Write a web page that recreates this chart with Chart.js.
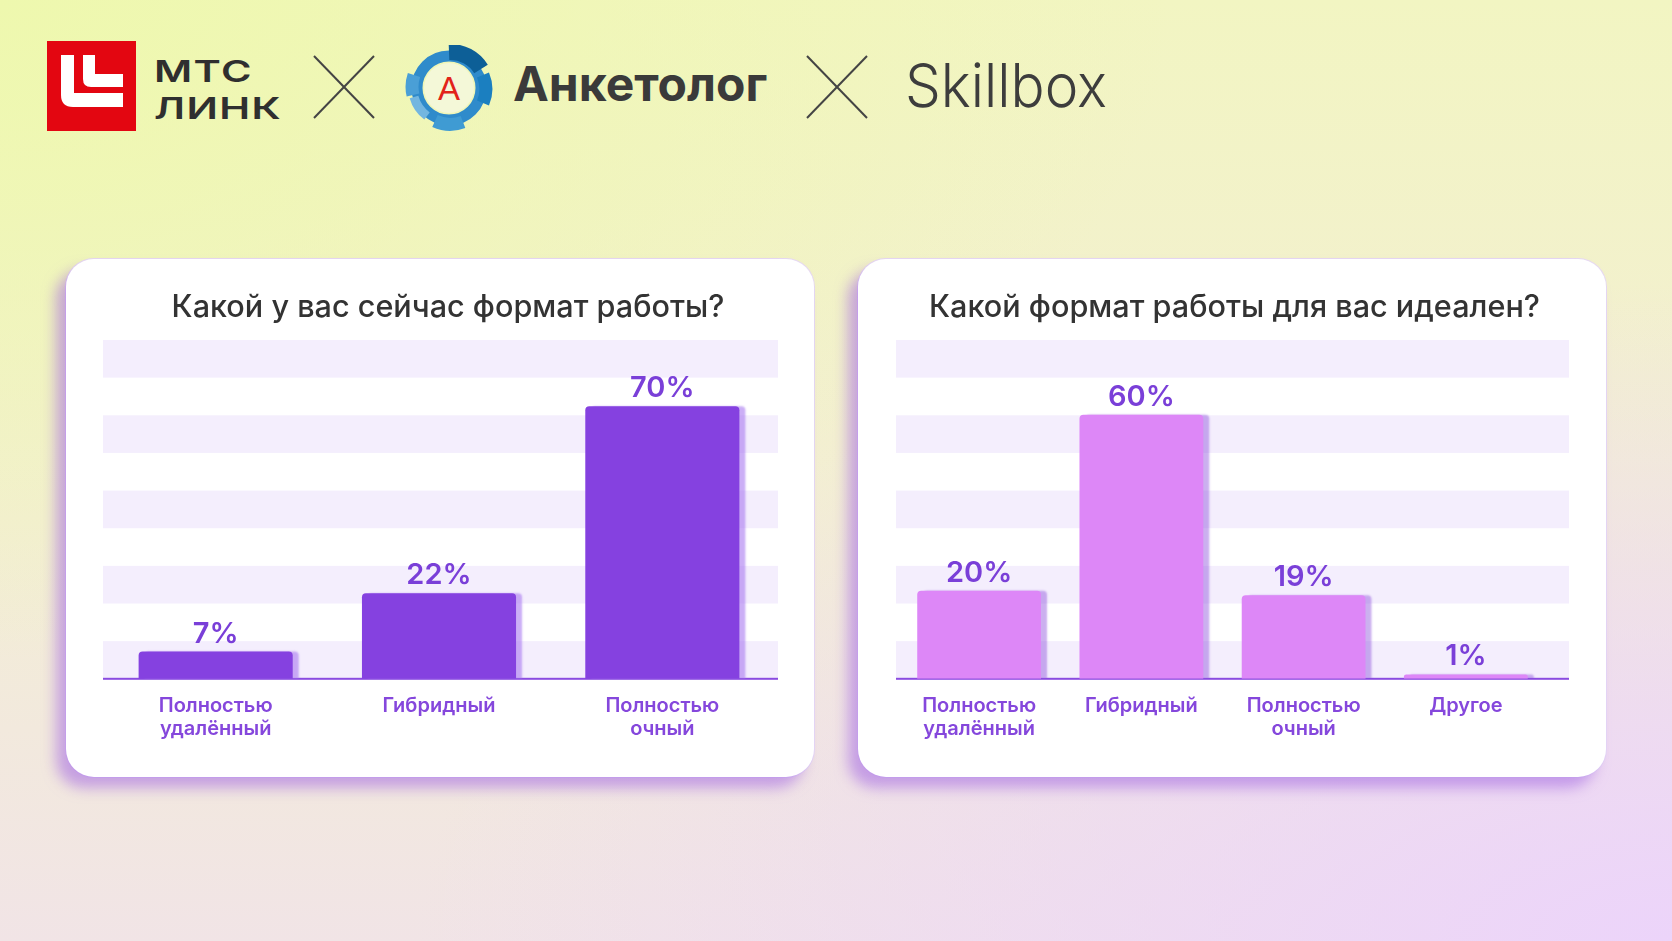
<!DOCTYPE html>
<html lang="ru">
<head>
<meta charset="utf-8">
<title>Формат работы</title>
<script src="https://cdn.jsdelivr.net/npm/chart.js@4.4.1/dist/chart.umd.min.js"></script>
<style>
html, body { margin: 0; padding: 0; }
body {
  width: 1672px; height: 941px; overflow: hidden; position: relative;
  font-family: Inter, "Noto Sans", sans-serif;
  background:
    radial-gradient(ellipse 75% 70% at 100% 100%, rgba(236,212,250,1) 0%, rgba(236,212,250,0) 100%),
    radial-gradient(ellipse 70% 70% at 0% 0%, #eef8ae 0%, rgba(238,248,174,0) 100%),
    linear-gradient(180deg, #f2f5c2 0%, #f3eed4 55%, #f1e4e6 100%);
}
.logo-red { position: absolute; left: 47px; top: 41px; width: 89px; height: 90px; background: #e30611; }
.mts { position: absolute; left: 154px; font-weight: 600; font-size: 30px; color: #2f2f2f; line-height: 1;
  transform-origin: left top; transform: scaleX(1.38); letter-spacing: 1px; }
.cross { position: absolute; top: 55px; width: 64px; height: 64px; }
.gear { position: absolute; left: 405px; top: 45px; width: 88px; height: 86px; }
.anketolog { position: absolute; left: 513px; top: 60px; font-size: 48px; font-weight: 700; color: #3a3a3a; line-height: 1; }
.skillbox { position: absolute; left: 905px; top: 55px; font-size: 61px; font-weight: 300; color: #3d3d3d; line-height: 1;
  transform-origin: left top; transform: scaleX(0.93); }
.card {
  position: absolute; top: 259px; width: 748px; height: 518px; background: #fff; border-radius: 28px;
  box-shadow: -10px 11px 14px rgba(168,112,226,0.6), 0 0 0 1px rgba(228,214,246,0.9);
  overflow: hidden;
}
.card canvas { display: block; }
</style>
</head>
<body>

<div class="logo-red">
  <svg width="89" height="90" viewBox="0 0 89 90">
    <path d="M14 14 H27 V52 H76 V66 H26 Q14 66 14 54 Z" fill="#fff"/>
    <path d="M36 14 H48 V33 H76 V46 H44 Q36 46 36 38 Z" fill="#fff"/>
  </svg>
</div>
<div class="mts" style="top:56px">МТС</div>
<div class="mts" style="top:93px">ЛИНК</div>

<svg class="cross" style="left:312px" viewBox="0 0 64 64">
  <line x1="2" y1="1" x2="62" y2="63" stroke="#444" stroke-width="2"/>
  <line x1="62" y1="1" x2="2" y2="63" stroke="#444" stroke-width="2"/>
</svg>

<svg class="gear" viewBox="0 0 88 86">
  <circle cx="44" cy="43" r="32" fill="none" stroke="#2f8bcb" stroke-width="11"/>
  <path d="M44 7 A36 36 0 0 1 76 24" fill="none" stroke="#0d5f97" stroke-width="16"/>
  <path d="M78 30 A36 36 0 0 1 78 58" fill="none" stroke="#1b7fc0" stroke-width="13"/>
  <path d="M30 76 A36 36 0 0 0 58 77" fill="none" stroke="#3f9bd3" stroke-width="13"/>
  <path d="M9 52 A36 36 0 0 0 22 71" fill="none" stroke="#73b6e0" stroke-width="9"/>
  <path d="M9 30 A36 36 0 0 0 8 50" fill="none" stroke="#4a9fd6" stroke-width="13"/>
  <circle cx="44" cy="43" r="25" fill="#f4f8d8"/>
  <text x="44" y="55" text-anchor="middle" font-family="Liberation Sans, sans-serif" font-size="33" fill="#e2231a">A</text>
</svg>
<div class="anketolog">Анкетолог</div>

<svg class="cross" style="left:805px" viewBox="0 0 64 64">
  <line x1="2" y1="1" x2="62" y2="63" stroke="#444" stroke-width="2"/>
  <line x1="62" y1="1" x2="2" y2="63" stroke="#444" stroke-width="2"/>
</svg>
<div class="skillbox">Skillbox</div>

<div class="card" style="left:66px"><canvas id="chartNow" width="748" height="518"></canvas></div>
<div class="card" style="left:858px"><canvas id="chartIdeal" width="747" height="518"></canvas></div>

<script>
// ---- data ----
const titleNow = "Какой у вас сейчас формат работы?";
const labelsNow = [["Полностью", "удалённый"], "Гибридный", ["Полностью", "очный"]];
const valuesNow = [7, 22, 70];

const titleIdeal = "Какой формат работы для вас идеален?";
const labelsIdeal = [["Полностью", "удалённый"], "Гибридный", ["Полностью", "очный"], "Другое"];
const valuesIdeal = [20, 60, 19, 1];

const $ = (sel, root=document) => root.querySelector(sel);

/* ---------- plugins ---------- */
// светлые горизонтальные полосы и базовая линия
const bandsPlugin = {
  id: "bands",
  beforeDraw(chart, args, opts) {
    const { ctx, chartArea: a } = chart;
    const x0 = a.left - opts.extLeft, x1 = a.right + opts.extRight;
    const n = 9, h = (a.bottom - a.top) / n;
    ctx.save();
    ctx.fillStyle = "#f4eefd";
    for (let i = 0; i < n; i += 2) ctx.fillRect(x0, a.top + i * h, x1 - x0, h);
    ctx.fillStyle = "#8a4be0";
    ctx.fillRect(x0, a.bottom - 1, x1 - x0, 2);
    ctx.restore();
  }
};

// заголовок карточки (центр по карточке, а не по области графика)
const headPlugin = {
  id: "head",
  afterDraw(chart, args, opts) {
    const { ctx, width } = chart;
    ctx.save();
    ctx.font = "500 30.6px Inter, sans-serif";
    ctx.fillStyle = "#333333";
    ctx.textAlign = "center";
    ctx.textBaseline = "middle";
    ctx.fillText(opts.text, width / 2 + opts.dx, 49);
    ctx.restore();
  }
};

// тень справа от столбцов + подписи значений
const barsPlugin = {
  id: "barsExtra",
  beforeDatasetsDraw(chart, args, opts) {
    const { ctx } = chart;
    ctx.save();
    ctx.shadowColor = opts.shadow;
    ctx.shadowOffsetX = 6;
    ctx.shadowOffsetY = 0;
    ctx.shadowBlur = 2;
  },
  afterDatasetsDraw(chart) {
    const { ctx } = chart;
    ctx.restore();
    const meta = chart.getDatasetMeta(0);
    const data = chart.data.datasets[0].data;
    ctx.save();
    ctx.font = "600 29px Inter, sans-serif";
    ctx.fillStyle = "#7a3fd8";
    ctx.textAlign = "center";
    ctx.textBaseline = "alphabetic";
    meta.data.forEach((bar, i) => ctx.fillText(data[i] + "%", bar.x, bar.y - 9));
    ctx.restore();
  }
};

function makeChart(id, title, labels, values, color, shadow, yMax, barPct, pad, ext, dx) {
  return new Chart($(id).getContext("2d"), {
    type: "bar",
    data: {
      labels,
      datasets: [{
        data: values,
        backgroundColor: color,
        borderRadius: 4,
        borderSkipped: "bottom",
        categoryPercentage: 1,
        barPercentage: barPct
      }]
    },
    options: {
      responsive: false,
      animation: false,
      layout: { padding: { left: pad[0], right: pad[1], top: 81, bottom: 21 } },
      plugins: {
        legend: { display: false },
        tooltip: { enabled: false },
        title: { display: false },
        head: { text: title, dx },
        barsExtra: { shadow },
        bands: { extLeft: ext[0], extRight: ext[1] }
      },
      scales: {
        x: {
          grid: { display: false, drawTicks: false },
          border: { display: false },
          ticks: {
            color: "#8547dc", padding: 16, maxRotation: 0,
            font: { family: "Inter", size: 20, weight: 600, lineHeight: 1.13 }
          }
        },
        y: { display: false, min: 0, max: yMax }
      }
    },
    plugins: [bandsPlugin, barsPlugin, headPlugin]
  });
}

makeChart("#chartNow", titleNow, labelsNow, valuesNow, "#8541e0", "rgba(168,120,240,0.6)",
  87, 0.69, [38, 40], [1, 4], 8);
makeChart("#chartIdeal", titleIdeal, labelsIdeal, valuesIdeal, "#dd87f7", "rgba(140,80,220,0.45)",
  77, 0.763, [40, 58], [2, 22], 3);
</script>
</body>
</html>
